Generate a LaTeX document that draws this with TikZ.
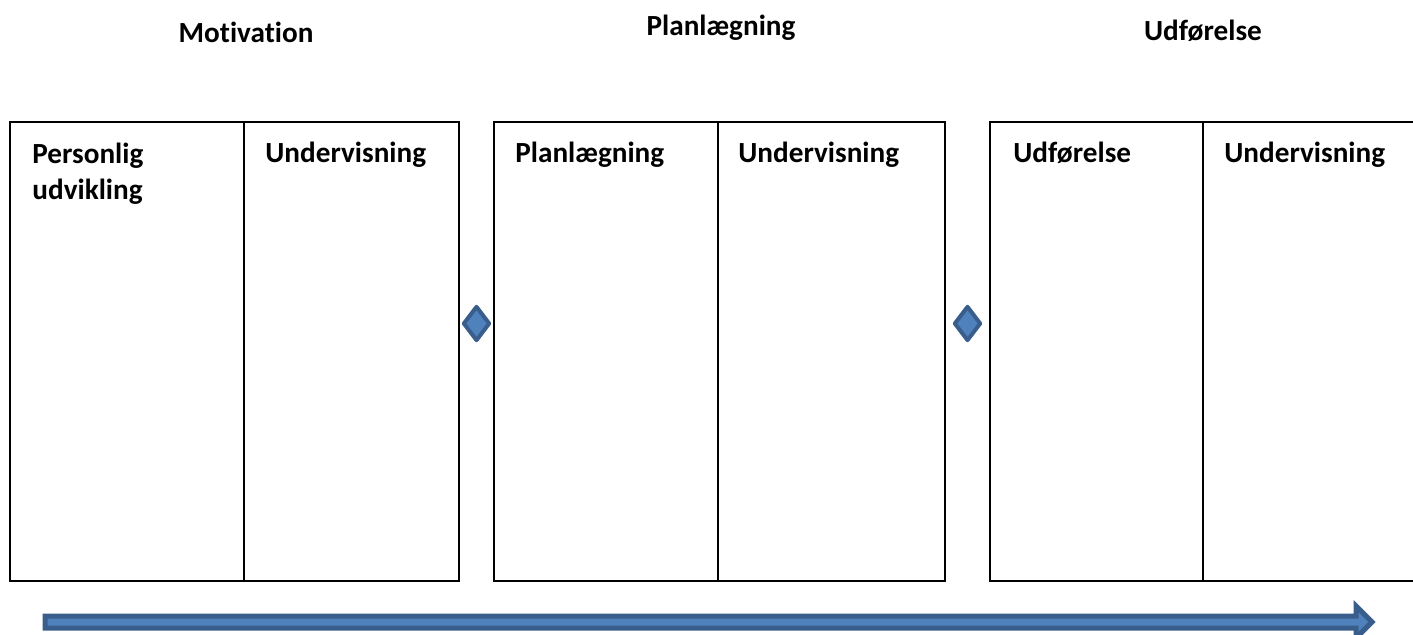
\documentclass[tikz,border=0pt]{standalone}
\usepackage{fontspec}
\setmainfont[Ligatures=NoCommon]{Carlito}
\usetikzlibrary{shapes,positioning,calc}
\definecolor{pilblaa}{HTML}{4F81BD}
\definecolor{pilkant}{HTML}{3A5E8C}

\begin{document}
\begin{tikzpicture}[x=0.5pt, y=-0.5pt,
  font=\fontsize{14.6}{18}\selectfont\bfseries,
  celle/.style={rectangle, draw, line width=1pt, minimum height=229.5pt, minimum width=#1, anchor=north west, inner sep=0pt, outer sep=0pt},
  etiket/.style={anchor=base west, inner sep=0pt, align=left},
  titel/.style={anchor=base, inner sep=0pt},
  kobling/.style={diamond, draw=pilkant, fill=pilblaa, line width=2pt, line join=round, minimum width=13.5pt, minimum height=17.5pt, inner sep=0pt}]

\useasboundingbox (0,0) rectangle (1413,634);
\clip (0,0) rectangle (1413,634);

% FASER

\node [celle=117pt] (motivation) at (10,122) {};
\node [celle=107.5pt] (motivationundervisning) at (motivation.north east) {};

\node [celle=112pt] (planlaegning) at (494,122) {};
\node [celle=113.5pt] (planlaegningundervisning) at (planlaegning.north east) {};

\node [celle=106.5pt] (udfoerelse) at (990,122) {};
\node [celle=118.5pt] (udfoerelseundervisning) at (udfoerelse.north east) {};

% TITLER

\node [titel] (motivationtitel) at ($(motivationundervisning.north west)+(2,-80)$) {Motivation};
\node [titel] (planlaegningtitel) at ($(planlaegningundervisning.north west)+(3,-87)$) {Planlægning};
\node [titel] (udfoerelsetitel) at ($(udfoerelseundervisning.north west)+(0,-82)$) {Udførelse};

% TEKSTER (base = sidste linje)

\node [etiket] (personligtekst) at ($(motivation.north west)+(22,77)$) {Personlig\\udvikling};
\node [etiket] (motivationundervisningtekst) at ($(motivationundervisning.north west)+(21,40)$) {Undervisning};

\node [etiket] (planlaegningtekst) at ($(planlaegning.north west)+(21,40)$) {Planlægning};
\node [etiket] (planlaegningundervisningtekst) at ($(planlaegningundervisning.north west)+(20,40)$) {Undervisning};

\node [etiket] (udfoerelsetekst) at ($(udfoerelse.north west)+(23,40)$) {Udførelse};
\node [etiket] (udfoerelseundervisningtekst) at ($(udfoerelseundervisning.north west)+(21,40)$) {Undervisning};

% KOBLINGER

\node [kobling] (kobling1) at ($(motivationundervisning.east)!0.5!(planlaegning.west)+(0,-28)$) {};
\node [kobling] (kobling2) at ($(planlaegningundervisning.east)!0.5!(udfoerelse.west)+(0,-28)$) {};

% PIL

\coordinate (pilstart) at (45,622);
\coordinate (pilslut) at (1372,622);

\filldraw [draw=pilkant, fill=pilblaa, line width=2.5pt]
  ($(pilstart)+(0,-6)$) -- ($(pilslut)+(-16,-6)$) -- ($(pilslut)+(-16,-16)$) -- (pilslut)
  -- ($(pilslut)+(-16,16)$) -- ($(pilslut)+(-16,6)$) -- ($(pilstart)+(0,6)$) -- cycle;

\end{tikzpicture}
\end{document}
